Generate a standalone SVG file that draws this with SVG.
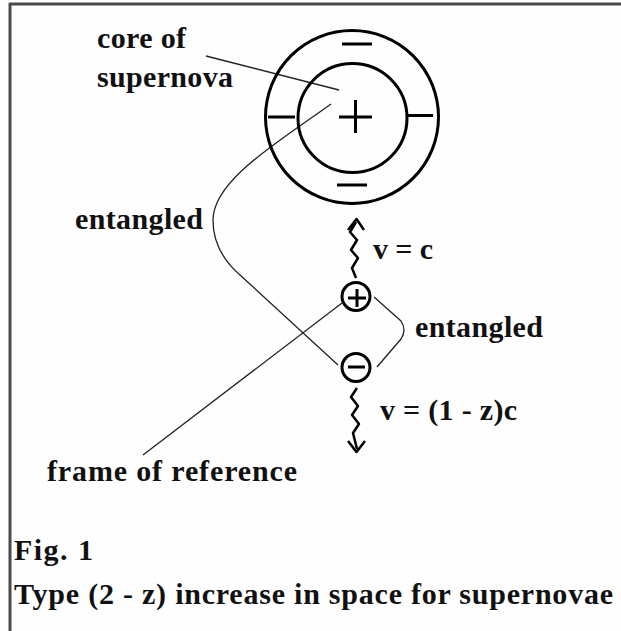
<svg xmlns="http://www.w3.org/2000/svg" width="621" height="631" viewBox="0 0 621 631">
  <style>
    .t { font-family: "Liberation Serif", "Times New Roman", serif; font-weight: bold; font-size: 30px; fill: #111; }
    .thick { fill: none; stroke: #000; stroke-width: 3; }
    .sign { stroke: #000; stroke-width: 3; fill: none; }
    .conn { fill: none; stroke: #222; stroke-width: 1.3; }
    .wave { fill: none; stroke: #000; stroke-width: 2.5; stroke-linejoin: round; }
  </style>
  <rect width="621" height="631" fill="#fefefe"/>
  <g id="frame">
    <line x1="9" y1="4" x2="621" y2="4" stroke="#4a4a4a" stroke-width="3"/>
    <line x1="10" y1="3" x2="10" y2="631" stroke="#4a4a4a" stroke-width="3"/>
  </g>

  <g id="connectors">
    <line class="conn" x1="206" y1="56" x2="339" y2="90"/>
    <path class="conn" d="M331,104 C280,141 213,180 213,220 C213,245 225,262 240,275 L338,365"/>
    <line class="conn" x1="143" y1="455" x2="342" y2="303"/>
    <path class="conn" d="M374,297 L401,321 Q407,330 401,339 L377,367"/>
    <path class="wave" d="M356,222 L350,232 L357,240 L351,250 L358,258 L352,268 L356,278"/>
    <polyline class="wave" points="348,230 356.5,219 364,230"/>
    <path class="wave" d="M357,388 L351,397 L358,406 L352,415 L359,424 L353,433 L357,449"/>
    <polyline class="wave" points="348,441 356.5,452 365,441"/>
  </g>

  <g id="supernova">
    <circle class="thick" cx="352" cy="117" r="86.5"/>
    <circle class="thick" cx="352.5" cy="118" r="54.5"/>
    <line class="sign" x1="339" y1="117" x2="372" y2="117"/>
    <line class="sign" x1="355.5" y1="100" x2="355.5" y2="133"/>
    <line class="sign" x1="342" y1="44" x2="372" y2="44"/>
    <line class="sign" x1="337" y1="185" x2="367" y2="185"/>
    <line class="sign" x1="268" y1="117" x2="295" y2="117"/>
    <line class="sign" x1="408" y1="115.5" x2="433" y2="115.5"/>
  </g>

  <g id="particle-plus">
    <ellipse class="thick" cx="356" cy="296.5" rx="14" ry="14"/>
    <line class="sign" x1="348" y1="298" x2="366" y2="298" stroke-width="2.5"/>
    <line class="sign" x1="357" y1="289" x2="357" y2="307" stroke-width="2.5"/>
  </g>

  <g id="particle-minus">
    <ellipse class="thick" cx="356" cy="367.5" rx="14" ry="14"/>
    <line class="sign" x1="348" y1="367" x2="365" y2="367" stroke-width="2.5"/>
  </g>

  <g id="labels">
    <text class="t" x="97" y="48" textLength="89" lengthAdjust="spacing">core of</text>
    <text class="t" x="97" y="87" textLength="136" lengthAdjust="spacing">supernova</text>
    <text class="t" x="75" y="229" textLength="128" lengthAdjust="spacing">entangled</text>
    <text class="t" x="373" y="259" textLength="60" lengthAdjust="spacing">v = c</text>
    <text class="t" x="415" y="337" textLength="128" lengthAdjust="spacing">entangled</text>
    <text class="t" x="380" y="420" textLength="137" lengthAdjust="spacing">v = (1 - z)c</text>
    <text class="t" x="47" y="481" textLength="250" lengthAdjust="spacing">frame of reference</text>
    <text class="t" x="14" y="560" textLength="79" lengthAdjust="spacing">Fig. 1</text>
    <text class="t" x="14" y="604" textLength="599" lengthAdjust="spacing">Type (2 - z) increase in space for supernovae</text>
  </g>
</svg>
